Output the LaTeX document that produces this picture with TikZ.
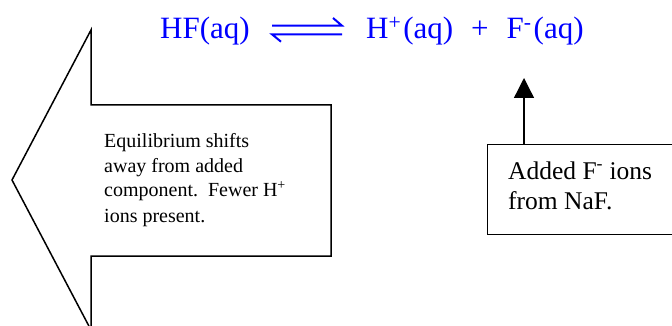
\documentclass[tikz,border=0pt]{standalone}
\usepackage{fontspec}
\setmainfont{Liberation Serif}
\usetikzlibrary{arrows.meta,calc}

\begin{document}
\begin{tikzpicture}[x=1pt,y=-1pt,
    eqtext/.style={blue,inner sep=0pt,anchor=base west,font=\fontsize{31}{36}\selectfont},
    eqline/.style={blue,line width=2pt},
    notetext/.style={inner sep=0pt,anchor=base west,align=left}]
    \useasboundingbox (0,0) rectangle (672,326);
    \clip (0,0) rectangle (672,326);
    % the equation
    \node[eqtext] (hf) at (160,39) {HF(aq)};
    \node[eqtext] (prod) at (366,39) {H\textsuperscript{+}\hspace{2pt}(aq)\hspace{18pt}+\hspace{18pt}F\textsuperscript{-}\hspace{2pt}(aq)};
    \coordinate (eqTL) at (272,25.7);
    \coordinate (eqTR) at (342,25.7);
    \coordinate (eqBL) at (272,34.3);
    \coordinate (eqBR) at (342,34.3);
    \draw[eqline] (eqTL) -- (eqTR) -- ++(-9,-7.7);
    \draw[eqline] (eqBR) -- (eqBL) -- ++(9,7.4);
    % big arrow pointing left
    \draw[line width=1.5pt,line join=miter] (12,180) -- (91,30) -- (91,105) -- (331,105)
        -- (331,256) -- (91,256) -- (91,330) -- cycle;
    % multi-line node: base is the last line
    \node[notetext,font=\fontsize{20}{25}\selectfont] (shiftText) at (104,222)
        {Equilibrium shifts\\away from added\\component.\ \ Fewer H\textsuperscript{+}\\ions present.};
    % added fluoride box
    \node[draw,line width=1.3pt,anchor=north west,minimum width=230pt,minimum height=90pt] (naf) at (487,144) {};
    \node[notetext,font=\fontsize{25.5}{30}\selectfont] (nafText) at (508,209)
        {Added F\textsuperscript{-} ions\\from NaF.};
    \coordinate (tipF) at (524,78);
    \draw[line width=1.3pt,-{Triangle[width=20pt,length=20pt]}] (naf.north -| tipF) -- (tipF);
\end{tikzpicture}
\end{document}
